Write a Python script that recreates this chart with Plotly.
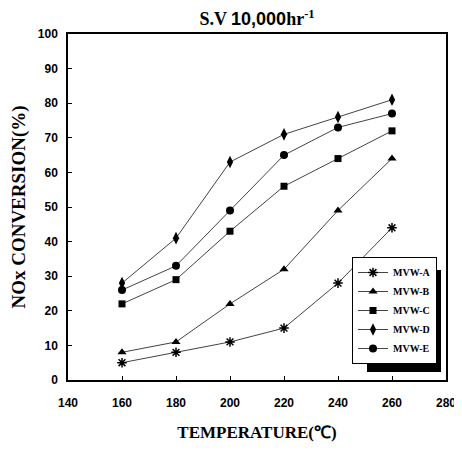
import plotly.graph_objects as go

temps = [160, 180, 200, 220, 240, 260]
mvw_a = [5, 8, 11, 15, 28, 44]
mvw_b = [8, 11, 22, 32, 49, 64]
mvw_c = [22, 29, 43, 56, 64, 72]
mvw_d = [28, 41, 63, 71, 76, 81]
mvw_e = [26, 33, 49, 65, 73, 77]
names = ["MVW-A", "MVW-B", "MVW-C", "MVW-D", "MVW-E"]
series = [mvw_a, mvw_b, mvw_c, mvw_d, mvw_e]
symbols = ["asterisk-open", "triangle-up", "square", "diamond-tall", "circle"]
sizes = [8, 8, 7, 9, 8]

# page body has an 8px default margin; figure sized to fit the 462x450 window
OFF = 8
W, H = 462 - OFF, 450 - 2 * OFF
# target plot frame in window pixels
PX0, PX1, PY0, PY1 = 68, 446, 34, 380
L, R = PX0 - OFF, W - (PX1 - OFF)
T, B = PY0 - OFF, H - (PY1 - OFF)
pw, ph = PX1 - PX0, PY1 - PY0

def px2x(p):
    return (p - PX0) / pw

def py2y(p):
    return (PY1 - p) / ph

fig = go.Figure()
for n, s, sym, sz in zip(names, series, symbols, sizes):
    fig.add_trace(go.Scatter(
        x=temps, y=s, name=n, mode="lines+markers",
        line=dict(color="#444444", width=1),
        marker=dict(symbol=sym, size=sz, color="black",
                    line=dict(color="black", width=1.5 if sym == "asterisk-open" else 0)),
    ))

# legend drop shadow
fig.add_shape(type="rect", xref="paper", yref="paper",
              x0=px2x(367), x1=px2x(441), y0=py2y(372), y1=py2y(270),
              fillcolor="black", line=dict(width=0), layer="above")

fig.update_layout(
    width=W, height=H,
    margin=dict(l=L, r=R, t=T, b=B, autoexpand=False),
    paper_bgcolor="white", plot_bgcolor="white",
    title=dict(text="S.V <span style='font-family:Liberation Sans'>10,000</span>hr<sup>-1</sup>",
               x=(L + pw / 2) / W, xanchor="center",
               y=1 - (19 - OFF) / H, yanchor="middle",
               font=dict(family="Liberation Serif", size=18, color="black", weight="bold")),
    xaxis=dict(range=[140, 280], dtick=20, tick0=140, showgrid=False, zeroline=False,
               ticks="inside", ticklen=4, tickcolor="black", showline=True, mirror=True,
               linecolor="black", linewidth=1.5, ticklabelstandoff=11, automargin=False,
               tickfont=dict(family="Liberation Sans", size=12, color="black", weight="bold"),
               title=dict(text="TEMPERATURE(℃)", standoff=24,
                          font=dict(family="Liberation Serif", size=17, color="black", weight="bold"))),
    yaxis=dict(range=[0, 100], dtick=10, showgrid=False, zeroline=False,
               ticks="inside", ticklen=4, tickcolor="black", showline=True, mirror=True,
               linecolor="black", linewidth=1.5, ticklabelstandoff=6, automargin=False,
               tickfont=dict(family="Liberation Sans", size=12, color="black", weight="bold"),
               title=dict(text="NOx CONVERSION(%)", standoff=12,
                          font=dict(family="Liberation Serif", size=19, color="black", weight="bold"))),
    legend=dict(x=px2x(437), y=py2y(364), xanchor="right", yanchor="bottom",
                bgcolor="white", bordercolor="black", borderwidth=1,
                font=dict(family="Liberation Serif", size=10, color="black", weight="bold"),
                itemwidth=30, tracegroupgap=0),
    showlegend=True,
)
fig.write_html("out.html")
